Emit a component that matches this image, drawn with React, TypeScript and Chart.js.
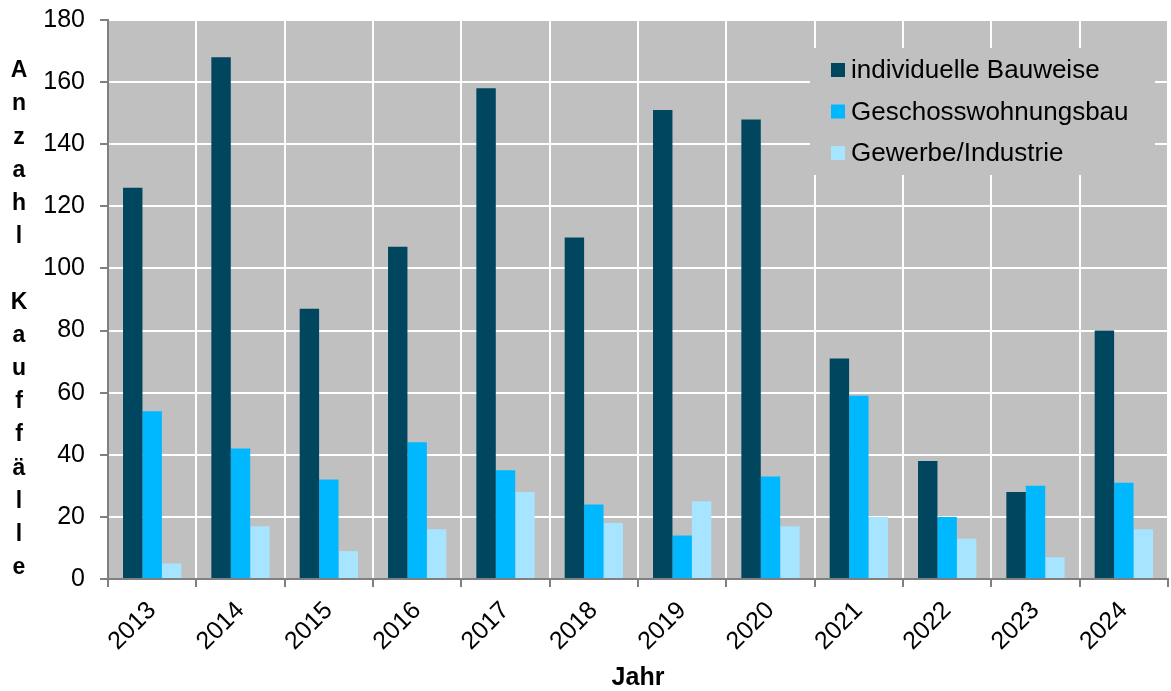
import React, { useEffect, useRef } from "react";
import { Chart, registerables } from "chart.js";

Chart.register(...registerables);

const years = ["2013", "2014", "2015", "2016", "2017", "2018", "2019", "2020", "2021", "2022", "2023", "2024"];
const individuelle = [126, 168, 87, 107, 158, 110, 151, 148, 71, 38, 28, 80];
const geschoss = [54, 42, 32, 44, 35, 24, 14, 33, 59, 20, 30, 31];
const gewerbe = [5, 17, 9, 16, 28, 18, 25, 17, 20, 13, 7, 16];
const seriesNames = ["individuelle Bauweise", "Geschosswohnungsbau", "Gewerbe/Industrie"];
const seriesColors = ["#00465f", "#00b8ff", "#a6e4ff"];
const yTitle = "Anzahl Kauffälle";
const xTitle = "Jahr";

const FONT = "'Liberation Sans', Arial, sans-serif";

const bgPlugin = {
  id: "plotBg",
  beforeDraw(chart: any) {
    const { ctx, chartArea } = chart;
    ctx.save();
    ctx.fillStyle = "#c0c0c0";
    ctx.fillRect(chartArea.left, chartArea.top, chartArea.right - chartArea.left, chartArea.bottom - chartArea.top);
    ctx.restore();
  },
};

const legendPlugin = {
  id: "boxLegend",
  afterDraw(chart: any) {
    const { ctx } = chart;
    ctx.save();
    ctx.fillStyle = "#c0c0c0";
    ctx.fillRect(810, 48, 345, 127);
    ctx.font = `26px ${FONT}`;
    ctx.textBaseline = "middle";
    ctx.textAlign = "left";
    chart.data.datasets.forEach((ds: any, i: number) => {
      const y = 70 + i * 41.5;
      ctx.fillStyle = ds.backgroundColor;
      ctx.fillRect(831, y - 7, 14, 14);
      ctx.fillStyle = "#000";
      ctx.fillText(ds.label, 851, y + 1);
    });
    ctx.restore();
  },
};

const yTitlePlugin = {
  id: "stackedYTitle",
  afterDraw(chart: any) {
    const { ctx } = chart;
    ctx.save();
    ctx.font = `bold 23px ${FONT}`;
    ctx.fillStyle = "#000";
    ctx.textAlign = "center";
    ctx.textBaseline = "middle";
    const chars = Array.from(yTitle);
    chars.forEach((c, i) => {
      if (c !== " ") ctx.fillText(c, 19, 71 + i * 33.1);
    });
    ctx.restore();
  },
};

export default function App() {
  const ref = useRef<HTMLCanvasElement>(null);
  useEffect(() => {
    if (!ref.current) return;
    const chart = new Chart(ref.current, {
      type: "bar",
      data: {
        labels: years,
        datasets: [individuelle, geschoss, gewerbe].map((d, i) => ({
          label: seriesNames[i],
          data: d,
          backgroundColor: seriesColors[i],
          borderWidth: 0,
          categoryPercentage: 0.66,
          barPercentage: 1,
        })),
      },
      options: {
        animation: false,
        responsive: false,
        maintainAspectRatio: false,
        layout: { padding: { top: 20, right: 3, left: 0, bottom: 0 } },
        plugins: { legend: { display: false }, tooltip: { enabled: false } },
        scales: {
          x: {
            offset: true,
            grid: { display: true, color: "#ffffff", lineWidth: 2, tickColor: "#808080", tickLength: 8, offset: true },
            border: { display: true, color: "#808080", width: 2 },
            ticks: {
              autoSkip: false,
              minRotation: 45,
              maxRotation: 45,
              color: "#000",
              padding: 9,
              font: { family: FONT, size: 25 },
            },
            title: {
              display: true,
              text: xTitle,
              color: "#000",
              font: { family: FONT, size: 25, weight: "bold" },
              padding: { top: 0, bottom: -2 },
            },
            afterFit: (s: any) => {
              s.height = 112;
              s.paddingLeft = 0;
              s.paddingRight = 0;
            },
          },
          y: {
            min: 0,
            max: 180,
            grid: { color: "#ffffff", lineWidth: 2, tickColor: "#808080", tickLength: 8 },
            border: { display: true, color: "#808080", width: 2 },
            ticks: {
              stepSize: 20,
              color: "#000",
              padding: 15,
              font: { family: FONT, size: 25 },
            },
            afterFit: (s: any) => {
              s.width = 108;
              s.paddingTop = 0;
              s.paddingBottom = 0;
            },
          },
        },
      },
      plugins: [bgPlugin, legendPlugin, yTitlePlugin],
    });
    return () => chart.destroy();
  }, []);
  return (
    <div style={{ position: "fixed", left: 0, top: 0, width: 1171, height: 691, background: "#fff" }}>
      <canvas ref={ref} width={1171} height={691} style={{ display: "block" }} />
    </div>
  );
}
